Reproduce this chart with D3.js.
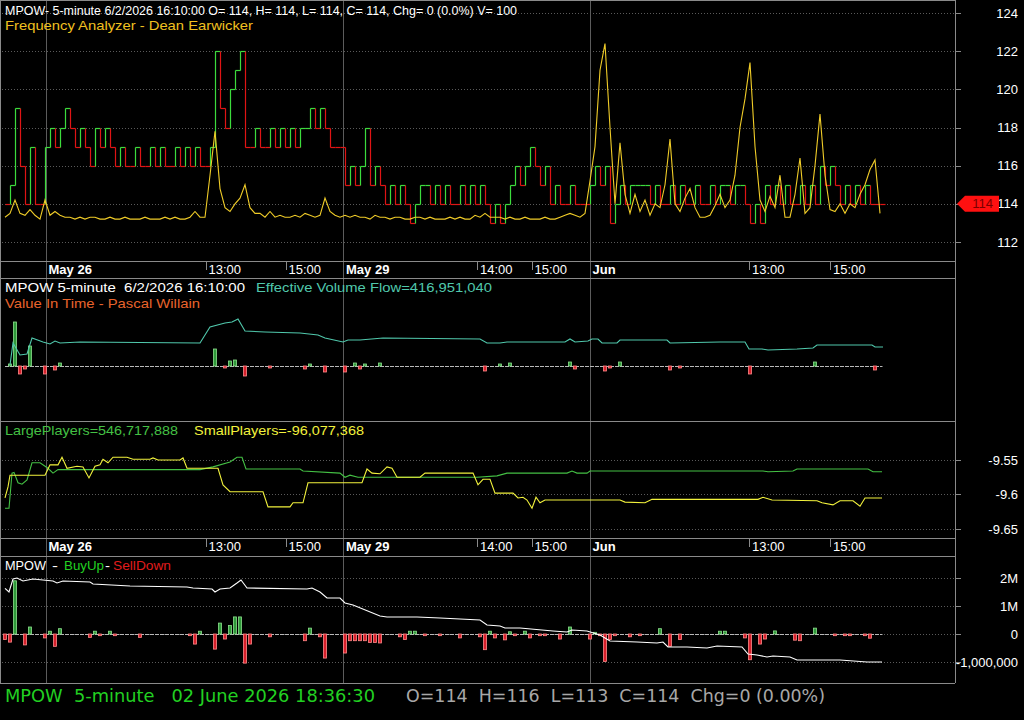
<!DOCTYPE html>
<html>
<head>
<meta charset="utf-8">
<script src="https://cdn.jsdelivr.net/npm/d3@7"></script>
<style>
  body { margin: 0; background: #000; }
  svg { display: block; }
  text { font-family: "Liberation Sans", Arial, sans-serif; white-space: pre; }
</style>
</head>
<body>
<script>
// ---- data (bar index = one 5-minute bar) ----
const closes = [114,115,119,116,114,117,114,114,117,
  118,117,118,119,118,117,118,117,116,118,117,118,117,
  116,117,116,116,117,116,116,117,116,117,116,116,117,116,117,116,117,116,116,117,
  122,119,118,120,121,122,117,
  117,118,117,117,118,117,118,117,
  118,117,118,118,
  119,118,119,118,
  117,117,117,
  115,116,115,116,118,115,
  116,115,114,115,114,115,114,113,114,115,
  115,114,115,114,115,114,114,115,114,115,114,115,114,
  113,114,113,114,
  115,116,115,116,117,116,115,116,
  114,115,114,114,115,114,114,114,
  115,116,115,116,113,
  114,115,114,115,115,115,115,114,115,114,114,115,114,115,114,114,115,114,114,115,114,
  115,115,114,115,115,114,
  113,114,113,115,
  114,115,114,115,114,114,115,114,115,114,
  116,115,116,
  115,114,115,114,115,114,115,114,
  114,114];

const freqAnalyzer = [113.3,113.5,114.2,113.5,113.4,113.7,113.4,113.2,114.2,113.4,113.6,113.4,
  113.3,113.3,113.2,113.3,113.2,113.3,113.3,113.2,113.2,113.3,113.2,113.2,113.3,113.2,113.2,113.2,
  113.3,113.2,113.2,113.2,113.3,113.2,113.3,113.2,113.2,113.3,113.6,113.3,
  113.3,115.5,117.8,114.8,113.8,113.6,114.0,114.3,115.0,113.8,113.5,
  113.5,113.3,113.6,113.3,113.4,113.3,113.3,113.4,113.3,113.5,113.4,113.3,113.4,114.3,113.6,113.4,113.3,
  113.4,113.3,113.4,113.3,113.3,113.2,113.4,113.3,113.3,113.2,113.3,113.3,113.2,113.2,113.3,113.3,
  113.2,113.3,113.2,113.2,113.2,113.3,113.2,113.3,113.2,113.2,113.4,113.3,113.5,113.3,113.3,113.3,
  113.2,113.3,113.2,113.2,113.3,113.2,113.2,113.2,113.3,113.2,113.2,113.3,113.4,113.5,113.4,113.3,
  113.5,115.2,117.0,121.0,122.4,118.0,114.0,117.2,114.5,113.5,114.5,113.6,114.2,113.4,114.0,113.8,
  115.0,117.4,114.0,113.6,114.3,114.8,113.8,113.3,113.3,113.4,113.9,114.5,113.8,114.2,115.5,118.0,
  119.5,121.4,117.0,114.2,113.6,114.4,113.8,115.5,113.3,113.3,114.5,116.4,113.5,113.8,116.0,118.7,
  115.5,113.7,113.6,114.0,113.5,114.0,113.8,114.5,115.0,115.8,116.3,113.5];

// Effective Volume Flow, millions  [bar, value]
const volumeFlow = [[1,381],[1.6,425],[3,401],[4.4,403],[5.4,435],[7.6,427],[9,423],[10,429],[11,425],
  [15,427],[39,425],[41,457],[44,465],[45.4,467],[46.6,473],[48,449],[52,447],[59,445],[62.6,441],
  [64,435],[67.6,427],[68.6,431],[71,431],[75.6,435],[95,433],[96.4,425],[99,425],[100.4,427],
  [112,427],[113,433],[114,427],[116.6,429],[117.4,433],[118.6,433],[119.4,425],[122.4,425],
  [123,431],[132.4,431],[133,425],[143,427],[148,427],[148.8,413],[151.4,413],[152.6,411],
  [158.4,413],[161.6,415],[162.4,421],[173.4,421],[174,417],[175.6,417]];

// Value In Time histogram  [bar, value]
const valueInTime = [[1,2],[2,44],[3,-8],[4,-3],[5,20],[8,-8],[10,-4],[11,3],[42,17],[44,-2],
  [45,5],[46,6],[48,-10],[53,-2],[60,-3],[61,2],[64,-6],[68,-6],[70,3],[71,-3],[72,2],[75,3],
  [96,-5],[99,2],[101,3],[113,4],[114,-3],[120,-5],[121,-2],[123,4],[133,-4],[135,-2],
  [149,-8],[162,4],[174,-4]];

// LargePlayers / SmallPlayers  [bar, value]
const largePlayers = [[0,-9.620],[0.8,-9.620],[1.4,-9.569],[1.8,-9.568],[2.6,-9.583],[3.4,-9.585],
  [4.4,-9.579],[5.4,-9.554],[7,-9.554],[8.6,-9.562],[9.6,-9.569],[10.6,-9.564],[39,-9.564],
  [41.6,-9.560],[45,-9.553],[46.4,-9.546],[47.4,-9.546],[48.2,-9.563],[59,-9.563],[59.6,-9.566],
  [67,-9.569],[68,-9.575],[69,-9.572],[70.6,-9.575],[94.4,-9.575],[98.4,-9.573],[100.4,-9.569],
  [112.4,-9.569],[113.4,-9.566],[114.4,-9.569],[116.4,-9.569],[117,-9.566],[151.6,-9.566],
  [152.6,-9.567],[157.6,-9.566],[158.4,-9.563],[172.6,-9.563],[173.6,-9.567],[175.4,-9.567]];

const smallPlayers = [[0,-9.605],[0.6,-9.589],[1,-9.572],[8,-9.572],[9,-9.557],[10.6,-9.557],
  [11.4,-9.546],[12.4,-9.562],[14.4,-9.559],[15.6,-9.560],[16.8,-9.576],[18,-9.559],[19,-9.557],
  [19.6,-9.549],[20.6,-9.554],[21.6,-9.546],[24.4,-9.546],[25.6,-9.549],[29,-9.549],[29.6,-9.547],
  [30.6,-9.550],[35,-9.550],[35.6,-9.547],[36.4,-9.562],[42.6,-9.562],[43.6,-9.586],[45,-9.596],
  [51.6,-9.596],[52.6,-9.618],[57,-9.618],[57.6,-9.612],[59.6,-9.612],[60.6,-9.583],[71.4,-9.583],
  [72.4,-9.563],[73.4,-9.569],[75,-9.570],[76.4,-9.560],[77.4,-9.562],[78.4,-9.575],[83,-9.575],
  [84,-9.569],[93.6,-9.569],[94.6,-9.586],[95.6,-9.578],[97,-9.578],[98,-9.598],[101.6,-9.598],
  [102.6,-9.605],[103.6,-9.604],[104.4,-9.608],[105.4,-9.620],[106.2,-9.604],[107,-9.612],
  [108,-9.608],[123,-9.608],[124,-9.611],[128,-9.612],[129.4,-9.607],[150.6,-9.607],
  [151.6,-9.604],[153.4,-9.608],[162.4,-9.609],[163.4,-9.612],[165.6,-9.615],[167,-9.609],
  [169.6,-9.609],[171,-9.617],[172,-9.605],[175.4,-9.605]];

// BuyUp-SellDown histogram and cumulative line  [bar, value]
const buySellBars = [[0,-200e3],[1,-290e3],[2,1900e3],[4,-390e3],[5,250e3],[8,-140e3],[9,100e3],
  [10,-440e3],[11,190e3],[17,-120e3],[18,100e3],[19,-60e3],[21,100e3],[22,-60e3],[27,-120e3],
  [37,-60e3],[38,-360e3],[39,100e3],[42,-540e3],[43,390e3],[44,-180e3],[45,300e3],[46,610e3],
  [47,610e3],[48,-1040e3],[49,-360e3],[53,-100e3],[60,-240e3],[61,210e3],[63,-100e3],[64,-860e3],
  [68,-680e3],[69,-240e3],[70,-240e3],[71,-240e3],[72,-240e3],[73,-300e3],[74,-300e3],[75,-320e3],
  [79,-100e3],[80,-200e3],[81,100e3],[82,100e3],[84,-60e3],[87,-60e3],[91,-140e3],[95,-100e3],
  [96,-560e3],[97,100e3],[98,-140e3],[100,-210e3],[101,80e3],[102,-60e3],[104,100e3],[105,-140e3],
  [107,-60e3],[108,-60e3],[111,-180e3],[113,250e3],[117,-180e3],[118,60e3],[119,-60e3],[120,-980e3],
  [121,-200e3],[122,-60e3],[125,-100e3],[127,-60e3],[131,190e3],[133,-440e3],[135,-200e3],
  [143,100e3],[144,100e3],[148,-140e3],[149,-920e3],[151,-360e3],[152,-180e3],[154,110e3],
  [158,-220e3],[159,-240e3],[162,210e3],[166,-60e3],[168,-60e3],[169,-60e3],[172,-60e3],[173,-150e3]];

const buySellLine = [[0,1632e3],[0.8,1500e3],[1.6,1964e3],[2.4,2000e3],[3.6,1893e3],[5.6,1964e3],
  [9.6,1893e3],[10.4,1821e3],[11.6,1893e3],[17,1857e3],[17.6,1786e3],[25,1714e3],[36.4,1679e3],
  [37.6,1643e3],[41.4,1607e3],[42,1500e3],[43,1607e3],[45,1643e3],[46.4,1821e3],[47.2,1929e3],
  [48.4,1643e3],[60.4,1607e3],[61.4,1643e3],[63,1500e3],[64.4,1286e3],[67,1286e3],[68,1107e3],
  [69.6,1036e3],[75,643e3],[76.4,607e3],[82.4,607e3],[87,571e3],[95,500e3],[96.4,321e3],
  [99,286e3],[100,214e3],[103,214e3],[109.6,107e3],[112.4,71e3],[113.4,143e3],[116.4,107e3],
  [119,-36e3],[121,-250e3],[126.4,-286e3],[130.4,-321e3],[131.6,-286e3],[132.6,-464e3],
  [136.4,-464e3],[140.4,-500e3],[142.4,-429e3],[147.4,-464e3],[148.6,-714e3],[150.4,-750e3],
  [152.4,-821e3],[153.6,-786e3],[157,-821e3],[158.4,-929e3],[167,-929e3],[172.4,-1000e3],
  [175.4,-1000e3]];

const priceTicks = [112, 114, 116, 118, 120, 122, 124];
const playerTicks = [-9.55, -9.6, -9.65];
const buySellTicks = [2e6, 1e6, 0, -1e6];
const buySellTickLabels = ["2M", "1M", "0", "-1,000,000"];
const timeTicks = [
  {bar: 8.1, label: "May 26", day: true},
  {bar: 40.1, label: "13:00"},
  {bar: 56.1, label: "15:00"},
  {bar: 67.6, label: "May 29", day: true},
  {bar: 94.4, label: "14:00"},
  {bar: 105.3, label: "15:00"},
  {bar: 116.9, label: "Jun", day: true},
  {bar: 148.8, label: "13:00"},
  {bar: 165, label: "15:00"}
];
const lastPrice = 114;

// ---- layout ----
const W = 1024, H = 720, axisX = 955;
const frame = "#8a8a8a", gridCol = "#5a5a5a", dayCol = "#5c5c5c";

const svg = d3.select("body").append("svg")
    .attr("width", W)
    .attr("height", H)
    .style("background", "#000");

const x = d3.scaleLinear().domain([0, 175]).range([5, 880]);

const y1 = d3.scaleLinear().domain([112, 124]).range([242, 13]);
const y2 = d3.scaleLinear().domain([271, 511]).range([420, 300]);
const y2h = d3.scaleLinear().domain([-54, 88]).range([420, 278]);
const y3 = d3.scaleLinear().domain([-9.65, -9.55]).range([529, 460]);
const y4 = d3.scaleLinear().domain([-1e6, 2e6]).range([662, 578]);

// dotted grid lines
function grid(scale, ticks) {
  svg.append("g").selectAll("line").data(ticks).enter().append("line")
      .attr("x1", 2).attr("x2", axisX)
      .attr("y1", d => Math.round(scale(d)) + 0.5)
      .attr("y2", d => Math.round(scale(d)) + 0.5)
      .attr("stroke", gridCol)
      .attr("stroke-dasharray", "1,2");
}
grid(y1, priceTicks);
grid(y3, playerTicks);
grid(y4, buySellTicks);

// day separators
svg.append("g").selectAll("line").data(timeTicks.filter(d => d.day)).enter().append("line")
    .attr("x1", d => Math.round(x(d.bar)) + 0.5)
    .attr("x2", d => Math.round(x(d.bar)) + 0.5)
    .attr("y1", 0).attr("y2", 683)
    .attr("stroke", dayCol);

// pane frames
[[0, 0.5], [261, 261.5], [278, 278.5], [421, 421.5], [538, 538.5], [556, 556.5], [683, 683.5]].forEach(d => {
  svg.append("line").attr("x1", 0).attr("x2", axisX).attr("y1", d[1]).attr("y2", d[1]).attr("stroke", frame);
});
svg.append("line").attr("x1", 0.5).attr("x2", 0.5).attr("y1", 0).attr("y2", 683).attr("stroke", frame);
svg.append("line").attr("x1", axisX + 0.5).attr("x2", axisX + 0.5).attr("y1", 0).attr("y2", 683).attr("stroke", frame);

// time axes in the two strips
[261, 538].forEach(top => {
  const g = svg.append("g");
  g.selectAll("line").data(timeTicks.filter(d => !d.day)).enter().append("line")
      .attr("x1", d => Math.round(x(d.bar)) + 0.5)
      .attr("x2", d => Math.round(x(d.bar)) + 0.5)
      .attr("y1", top).attr("y2", top + 9)
      .attr("stroke", frame);
  g.selectAll("text").data(timeTicks).enter().append("text")
      .attr("x", d => x(d.bar) + 3)
      .attr("y", top + 13)
      .attr("fill", "#fff")
      .attr("font-size", 13)
      .attr("font-weight", d => d.day ? "bold" : "normal")
      .text(d => d.label);
});

// right axes
function rightAxis(scale, ticks, fmt) {
  const g = svg.append("g");
  g.selectAll("line").data(ticks).enter().append("line")
      .attr("x1", axisX).attr("x2", axisX + 6)
      .attr("y1", d => Math.round(scale(d)) + 0.5)
      .attr("y2", d => Math.round(scale(d)) + 0.5)
      .attr("stroke", frame);
  g.selectAll("text").data(ticks).enter().append("text")
      .attr("x", 1018)
      .attr("y", d => scale(d) + 4.5)
      .attr("text-anchor", "end")
      .attr("fill", "#fff")
      .attr("font-size", 13)
      .text(fmt);
}
rightAxis(y1, priceTicks, d => d);
rightAxis(y3, playerTicks, d => String(d));
rightAxis(y4, buySellTicks, (d, i) => buySellTickLabels[i]);

// ---- pane 1: price step line + frequency analyzer ----
const segs = [];
let dir = "down";
closes.forEach((c, i) => {
  if (i > 0) {
    const p = closes[i - 1];
    if (c > p) dir = "up"; else if (c < p) dir = "down";
    if (c !== p) segs.push({x1: i, x2: i, v1: p, v2: c, dir});
  }
  segs.push({x1: i, x2: i + 1, v1: c, v2: c, dir});
});
svg.append("g").selectAll("line").data(segs).enter().append("line")
    .attr("x1", d => Math.round(x(d.x1)) + 0.5)
    .attr("x2", d => Math.round(x(d.x2)) + 0.5)
    .attr("y1", d => Math.round(y1(d.v1)) + 0.5)
    .attr("y2", d => Math.round(y1(d.v2)) + 0.5)
    .attr("stroke", d => d.dir === "up" ? "#3cdc3c" : "#e01414")
    .attr("stroke-width", 1.2);

svg.append("path")
    .datum(freqAnalyzer)
    .attr("fill", "none")
    .attr("stroke", "#f0cc28")
    .attr("stroke-width", 1.1)
    .attr("d", d3.line().x((d, i) => x(i)).y(d => y1(d)));

// last price tag
const ty = y1(lastPrice);
svg.append("polygon")
    .attr("points", [[957, ty], [965, ty - 8], [999, ty - 8], [999, ty + 8], [965, ty + 8]].join(" "))
    .attr("fill", "#ff1010");
svg.append("text")
    .attr("x", 993).attr("y", ty + 4.5)
    .attr("text-anchor", "end")
    .attr("fill", "#7a0000")
    .attr("font-size", 13)
    .text(lastPrice);

// ---- pane 2: effective volume flow + value in time ----
function bars(data, scale, zero, up, upEdge, down, downEdge) {
  svg.append("g").selectAll("rect").data(data).enter().append("rect")
      .attr("x", d => Math.round(x(d[0])) - 1.5)
      .attr("width", 3)
      .attr("y", d => Math.min(scale(d[1]), scale(zero)))
      .attr("height", d => Math.max(1, Math.abs(scale(d[1]) - scale(zero))))
      .attr("fill", d => d[1] >= 0 ? up : down)
      .attr("stroke", d => d[1] >= 0 ? upEdge : downEdge)
      .attr("stroke-width", 0.8);
}

svg.append("line")
    .attr("x1", x(0)).attr("x2", x(175.5))
    .attr("y1", Math.round(y2h(0)) + 0.5).attr("y2", Math.round(y2h(0)) + 0.5)
    .attr("stroke", "#b8b8b8")
    .attr("stroke-dasharray", "4,1");
bars(valueInTime, y2h, 0, "#2f9a3a", "#8ee08e", "#d8202c", "#ff8a8a");

svg.append("path")
    .datum(volumeFlow)
    .attr("fill", "none")
    .attr("stroke", "#50c8ac")
    .attr("stroke-width", 1.1)
    .attr("d", d3.line().x(d => x(d[0])).y(d => y2(d[1])));

// ---- pane 3: large / small players ----
const line3 = d3.line().x(d => x(d[0])).y(d => y3(d[1]));
svg.append("path").datum(largePlayers)
    .attr("fill", "none").attr("stroke", "#44c044").attr("stroke-width", 1.1)
    .attr("d", line3);
svg.append("path").datum(smallPlayers)
    .attr("fill", "none").attr("stroke", "#f2f23c").attr("stroke-width", 1.1)
    .attr("d", line3);

// ---- pane 4: buy up - sell down ----
svg.append("line")
    .attr("x1", x(0)).attr("x2", x(175.5))
    .attr("y1", Math.round(y4(0)) + 0.5).attr("y2", Math.round(y4(0)) + 0.5)
    .attr("stroke", "#b8b8b8")
    .attr("stroke-dasharray", "4,1");
bars(buySellBars, y4, 0, "#2f9a3a", "#8ee08e", "#d8202c", "#ff8a8a");
svg.append("path").datum(buySellLine)
    .attr("fill", "none").attr("stroke", "#fff").attr("stroke-width", 1.1)
    .attr("d", d3.line().x(d => x(d[0])).y(d => y4(d[1])));

// ---- titles ----
const labels = [
  {x: 5, y: 15, w: 512, c: "#ffffff", t: "MPOW- 5-minute 6/2/2026 16:10:00 O= 114, H= 114, L= 114, C= 114, Chg= 0 (0.0%) V= 100"},
  {x: 5, y: 30, w: 248, c: "#f0c020", t: "Frequency Analyzer - Dean Earwicker"},
  {x: 5, y: 292, w: 240, c: "#ffffff", t: "MPOW 5-minute  6/2/2026 16:10:00"},
  {x: 256, y: 292, w: 236, c: "#50c8ac", t: "Effective Volume Flow=416,951,040"},
  {x: 5, y: 308, w: 195, c: "#e8642c", t: "Value In Time - Pascal Willain"},
  {x: 5, y: 435, w: 173, c: "#44c044", t: "LargePlayers=546,717,888"},
  {x: 194, y: 435, w: 170, c: "#f2f23c", t: "SmallPlayers=-96,077,368"},
  {x: 5, y: 570, w: 41, c: "#ffffff", t: "MPOW"},
  {x: 52, y: 570, w: 6, c: "#ffffff", t: "-"},
  {x: 64, y: 570, w: 40, c: "#22d022", t: "BuyUp"},
  {x: 105, y: 570, w: 5, c: "#ffffff", t: "-"},
  {x: 113, y: 570, w: 58, c: "#e01c1c", t: "SellDown"}
];
svg.append("g").selectAll("text").data(labels).enter().append("text")
    .attr("x", d => d.x).attr("y", d => d.y)
    .attr("fill", d => d.c)
    .attr("font-size", 13)
    .attr("textLength", d => d.w)
    .attr("lengthAdjust", "spacingAndGlyphs")
    .text(d => d.t);

// status bar
const status = [
  {x: 5, w: 370, c: "#22d022", t: "MPOW  5-minute   02 June 2026 18:36:30"},
  {x: 406, w: 419, c: "#a8a8a8", t: "O=114  H=116  L=113  C=114  Chg=0 (0.00%)"}
];
svg.append("g").selectAll("text").data(status).enter().append("text")
    .attr("x", d => d.x).attr("y", 702)
    .attr("fill", d => d.c)
    .attr("font-size", 18)
    .style("font-family", "'Liberation Sans Narrow', 'DejaVu Sans Condensed', 'Liberation Sans', sans-serif")
    .attr("textLength", d => d.w)
    .attr("lengthAdjust", "spacingAndGlyphs")
    .text(d => d.t);
</script>
</body>
</html>
